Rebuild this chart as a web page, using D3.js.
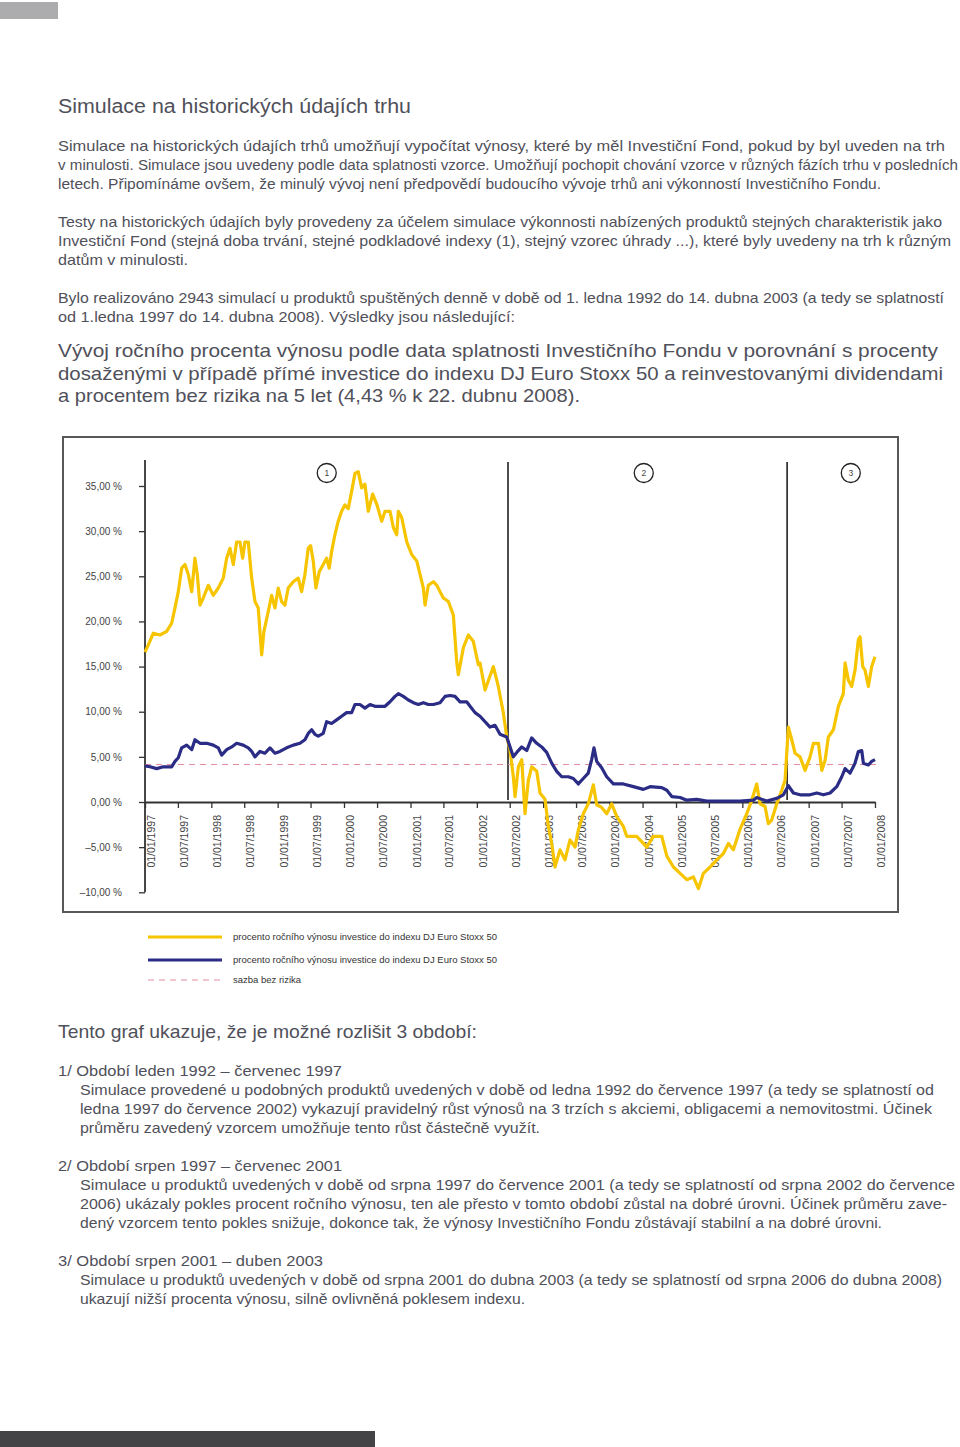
<!DOCTYPE html>
<html><head><meta charset="utf-8">
<script src="https://cdn.jsdelivr.net/npm/d3@7"></script>
<style>
html,body{margin:0;padding:0;background:#fff;}
svg{display:block;}
text{font-family:"Liberation Sans",Arial,sans-serif;}
</style></head>
<body>
<script>
// ---------------- DATA ----------------
const yTickValues = [-10, -5, 0, 5, 10, 15, 20, 25, 30, 35];
const yTickLabels = ["–10,00 %", "–5,00 %", "0,00 %", "5,00 %", "10,00 %", "15,00 %", "20,00 %", "25,00 %", "30,00 %", "35,00 %"];
const xTickLabels = ["01/01/1997","01/07/1997","01/01/1998","01/07/1998","01/01/1999","01/07/1999","01/01/2000","01/07/2000","01/01/2001","01/07/2001","01/01/2002","01/07/2002","01/01/2003","01/07/2003","01/01/2004","01/07/2004","01/01/2005","01/07/2005","01/01/2006","01/07/2006","01/01/2007","01/07/2007","01/01/2008"];

// decimal years (maturity date) and annual return in %
const yellowT = [1997.000,1997.050,1997.125,1997.226,1997.327,1997.402,1997.452,1997.502,1997.553,1997.603,1997.653,1997.704,1997.753,1997.788,1997.829,1997.879,1997.954,1998.029,1998.105,1998.180,1998.231,1998.281,1998.331,1998.382,1998.432,1998.472,1998.507,1998.557,1998.608,1998.658,1998.707,1998.759,1998.793,1998.858,1998.909,1998.959,1999.009,1999.060,1999.110,1999.159,1999.235,1999.310,1999.361,1999.411,1999.461,1999.497,1999.536,1999.577,1999.627,1999.687,1999.738,1999.777,1999.813,1999.863,1999.913,1999.964,2000.014,2000.064,2000.115,2000.165,2000.214,2000.266,2000.315,2000.365,2000.431,2000.492,2000.567,2000.617,2000.692,2000.742,2000.793,2000.817,2000.868,2000.944,2001.019,2001.094,2001.144,2001.194,2001.219,2001.269,2001.345,2001.396,2001.445,2001.495,2001.571,2001.646,2001.697,2001.721,2001.797,2001.872,2001.947,2002.023,2002.048,2002.124,2002.249,2002.324,2002.399,2002.451,2002.500,2002.550,2002.576,2002.626,2002.677,2002.726,2002.776,2002.827,2002.903,2002.952,2003.028,2003.078,2003.129,2003.178,2003.254,2003.329,2003.405,2003.480,2003.530,2003.605,2003.680,2003.756,2003.807,2003.882,2003.958,2004.033,2004.108,2004.208,2004.259,2004.410,2004.560,2004.660,2004.786,2004.862,2004.961,2005.062,2005.163,2005.262,2005.338,2005.413,2005.514,2005.615,2005.715,2005.790,2005.865,2005.966,2006.067,2006.142,2006.217,2006.267,2006.343,2006.392,2006.443,2006.519,2006.594,2006.644,2006.694,2006.745,2006.795,2006.870,2006.946,2007.021,2007.071,2007.147,2007.198,2007.247,2007.297,2007.373,2007.448,2007.523,2007.549,2007.598,2007.649,2007.699,2007.749,2007.775,2007.815,2007.850,2007.900,2007.950,2008.000];
const yellowV = [16.6,17.4,18.7,18.5,18.9,19.8,21.5,23.3,25.9,26.3,25.2,23.3,27.0,25.2,21.8,22.6,24.0,22.9,23.7,24.8,27.0,28.1,26.3,28.8,28.8,27.0,28.8,28.8,24.8,22.2,21.5,16.3,18.9,21.1,22.9,21.5,23.7,22.2,21.8,23.7,24.4,24.8,23.3,25.2,28.1,28.4,26.7,23.7,25.5,26.3,27.0,25.9,27.7,29.6,31.1,32.2,32.9,32.5,34.4,36.4,36.6,34.8,35.2,32.2,34.1,33.0,31.1,32.2,32.2,30.4,29.6,32.2,31.5,28.8,27.4,26.7,25.2,23.7,21.8,24.0,24.4,24.0,23.3,22.6,22.2,20.7,15.5,14.1,17.1,18.5,17.8,15.2,15.4,12.4,15.0,12.8,9.9,7.2,5.8,2.8,0.6,3.9,4.7,-1.3,2.4,3.9,3.4,1.0,0.3,-2.7,-4.6,-7.2,-5.3,-6.4,-4.2,-5.0,-3.1,-1.3,-0.2,1.9,-0.3,-0.6,-1.3,-0.2,-1.6,-2.7,-3.8,-3.8,-5.0,-3.8,-3.8,-6.0,-7.2,-7.9,-8.6,-8.3,-9.6,-7.9,-7.2,-6.4,-5.7,-4.6,-5.3,-3.0,-1.3,0.2,2.0,-0.2,-0.5,-2.4,-2.0,-0.2,1.3,2.4,8.3,6.9,5.4,5.0,3.5,5.0,6.5,6.5,3.5,4.6,7.2,8.0,10.6,12.0,15.4,13.5,12.8,14.6,18.0,18.3,15.0,14.6,12.8,15.0,16.1];

const blueT = [1997.000,1997.075,1997.176,1997.276,1997.402,1997.452,1997.502,1997.553,1997.628,1997.704,1997.753,1997.829,1997.930,1998.029,1998.105,1998.156,1998.231,1998.307,1998.382,1998.481,1998.557,1998.608,1998.658,1998.733,1998.808,1998.884,1998.959,1999.034,1999.135,1999.235,1999.336,1999.411,1999.461,1999.512,1999.562,1999.612,1999.687,1999.738,1999.813,1999.889,1999.964,2000.039,2000.115,2000.165,2000.240,2000.315,2000.391,2000.466,2000.541,2000.617,2000.692,2000.767,2000.817,2000.892,2000.968,2001.043,2001.118,2001.194,2001.269,2001.345,2001.445,2001.521,2001.596,2001.671,2001.747,2001.847,2001.898,2001.973,2002.048,2002.199,2002.274,2002.350,2002.451,2002.550,2002.626,2002.677,2002.752,2002.827,2002.903,2002.978,2003.053,2003.129,2003.204,2003.280,2003.380,2003.455,2003.530,2003.605,2003.680,2003.731,2003.766,2003.807,2003.882,2003.958,2004.058,2004.208,2004.359,2004.509,2004.610,2004.786,2004.862,2004.937,2005.062,2005.163,2005.314,2005.464,2005.665,2005.966,2006.167,2006.217,2006.368,2006.519,2006.619,2006.694,2006.770,2006.870,2007.021,2007.122,2007.222,2007.323,2007.423,2007.499,2007.549,2007.624,2007.699,2007.749,2007.800,2007.825,2007.900,2007.950,2008.000];
const blueV = [4.0,3.9,3.7,3.9,3.9,4.5,4.9,6.0,6.3,5.8,6.9,6.5,6.5,6.3,6.0,5.2,5.8,6.1,6.5,6.3,6.0,5.6,5.0,5.6,5.4,6.0,5.4,5.6,6.0,6.3,6.5,6.9,7.6,8.0,7.5,7.3,7.6,8.9,8.7,9.1,9.5,9.9,9.9,10.8,10.8,10.4,10.8,10.6,10.6,10.6,11.1,11.7,12.0,11.7,11.3,11.0,10.8,11.0,10.8,10.8,11.0,11.7,11.8,11.7,11.1,11.1,10.6,9.9,9.5,8.3,8.5,7.5,7.2,5.0,5.7,6.1,5.7,7.1,6.5,6.1,5.5,4.3,3.4,2.8,2.8,2.6,2.0,2.6,3.2,4.7,6.0,4.5,3.8,2.8,2.0,2.0,1.7,1.4,1.7,1.6,1.3,0.6,0.5,0.2,0.3,0.1,0.1,0.1,0.2,0.5,0.1,0.4,0.8,1.8,1.0,0.8,0.8,1.0,0.8,1.0,1.7,2.8,3.7,3.2,4.3,5.6,5.7,4.3,4.1,4.5,4.7];

const riskFreeRate = 4.15;
const periodLines = [2002.470, 2006.675];
const periodLabels = ["1", "2", "3"];
const periodLabelT = [1999.740, 2004.515, 2007.635];
const legendLabels = ["procento ročního výnosu investice do indexu DJ Euro Stoxx 50", "procento ročního výnosu investice do indexu DJ Euro Stoxx 50", "sazba bez rizika"];

// ---------------- TEXTS ----------------
const textLines = [
  // [text, x, y, size, width]
  ["Simulace na historických údajích trhu", 58, 113, 20, 353],
  ["Simulace na historických údajích trhů umožňují vypočítat výnosy, které by měl Investiční Fond, pokud by byl uveden na trh", 58, 151, 14.5, 887],
  ["v minulosti. Simulace jsou uvedeny podle data splatnosti vzorce. Umožňují pochopit chování vzorce v různých fázích trhu v posledních", 58, 170, 14.5, 900],
  ["letech. Připomínáme ovšem, že minulý vývoj není předpovědí budoucího vývoje trhů ani výkonností Investičního Fondu.", 58, 189, 14.5, 823],
  ["Testy na historických údajích byly provedeny za účelem simulace výkonnosti nabízených produktů stejných charakteristik jako", 58, 227, 14.5, 884],
  ["Investiční Fond (stejná doba trvání, stejné podkladové indexy (1), stejný vzorec úhrady ...), které byly uvedeny na trh k různým", 58, 246, 14.5, 893],
  ["datům v minulosti.", 58, 265, 14.5, 130],
  ["Bylo realizováno 2943 simulací u produktů spuštěných denně v době od 1. ledna 1992 do 14. dubna 2003 (a tedy se splatností", 58, 303, 14.5, 886],
  ["od 1.ledna 1997 do 14. dubna 2008). Výsledky jsou následující:", 58, 322, 14.5, 457],
  ["Vývoj ročního procenta výnosu podle data splatnosti Investičního Fondu v porovnání s procenty", 58, 357, 18.5, 880],
  ["dosaženými v případě přímé investice do indexu DJ Euro Stoxx 50 a reinvestovanými dividendami", 58, 380, 18.5, 885],
  ["a procentem bez rizika na 5 let (4,43 % k 22. dubnu 2008).", 58, 402, 18.5, 522],
  ["Tento graf ukazuje, že je možné rozlišit 3 období:", 58, 1038, 18.5, 419],
  ["1/ Období leden 1992 – červenec 1997", 58, 1076, 15, 284],
  ["Simulace provedené u podobných produktů uvedených v době od ledna 1992 do července 1997 (a tedy se splatností od", 80, 1095, 15, 854],
  ["ledna 1997 do července 2002) vykazují pravidelný růst výnosů na 3 trzích s akciemi, obligacemi a nemovitostmi. Účinek", 80, 1114, 15, 852],
  ["průměru zavedený vzorcem umožňuje tento růst částečně využít.", 80, 1133, 15, 460],
  ["2/ Období srpen 1997 – červenec 2001", 58, 1171, 15, 284],
  ["Simulace u produktů uvedených v době od srpna 1997 do července 2001 (a tedy se splatností od srpna 2002 do července", 80, 1190, 15, 875],
  ["2006) ukázaly pokles procent ročního výnosu, ten ale přesto v tomto období zůstal na dobré úrovni. Účinek průměru zave-", 80, 1209, 15, 867],
  ["dený vzorcem tento pokles snižuje, dokonce tak, že výnosy Investičního Fondu zůstávají stabilní a na dobré úrovni.", 80, 1228, 15, 802],
  ["3/ Období srpen 2001 – duben 2003", 58, 1266, 15, 265],
  ["Simulace u produktů uvedených v době od srpna 2001 do dubna 2003 (a tedy se splatností od srpna 2006 do dubna 2008)", 80, 1285, 15, 862],
  ["ukazují nižší procenta výnosu, silně ovlivněná poklesem indexu.", 80, 1304, 15, 445]
];

// ---------------- DRAW ----------------
const W = 960, H = 1447;
const svg = d3.select("body").append("svg").attr("width", W).attr("height", H);

svg.append("rect").attr("x", 0).attr("y", 2).attr("width", 58).attr("height", 17).attr("fill", "#acacae");
svg.append("rect").attr("x", 0).attr("y", 1431).attr("width", 375).attr("height", 16).attr("fill", "#444446");

svg.selectAll("text.body").data(textLines).join("text")
  .attr("class", "body")
  .attr("x", d => d[1]).attr("y", d => d[2])
  .attr("font-size", d => d[3])
  .attr("fill", "#50505a")
  .attr("textLength", d => d[4])
  .attr("lengthAdjust", "spacingAndGlyphs")
  .text(d => d[0]);

// chart frame
svg.append("rect").attr("x", 63).attr("y", 437).attr("width", 835).attr("height", 475)
  .attr("fill", "none").attr("stroke", "#58585a").attr("stroke-width", 2);

const toDate = t => {
  const yr = Math.floor(t);
  const start = new Date(yr, 0, 1).getTime();
  const end = new Date(yr + 1, 0, 1).getTime();
  return new Date(start + (t - yr) * (end - start));
};
const parse = d3.timeParse("%d/%m/%Y");
const xDates = xTickLabels.map(parse);

const x = d3.scaleTime().domain([xDates[0], xDates[xDates.length - 1]]).range([145, 875]);
const y = d3.scaleLinear().domain([-10, 35]).range([892.3, 486]);

const g = svg.append("g");

// y axis
const yAxis = d3.axisLeft(y).tickValues(yTickValues)
  .tickFormat((d, i) => yTickLabels[i]).tickSize(6).tickPadding(17);
const yg = g.append("g").attr("transform", "translate(145,0)").call(yAxis);
yg.select(".domain").remove();
yg.selectAll(".tick line").attr("stroke", "#333").attr("stroke-width", 1.3);
yg.selectAll(".tick text").attr("font-size", 10).attr("fill", "#444").attr("font-family", '"Liberation Sans",Arial,sans-serif');
g.append("line").attr("x1", 145).attr("x2", 145).attr("y1", 460).attr("y2", y(-10))
  .attr("stroke", "#333").attr("stroke-width", 1.8);

// x axis
const xAxis = d3.axisBottom(x).tickValues(xDates).tickFormat((d, i) => xTickLabels[i]).tickSize(6).tickSizeOuter(0);
const xg = g.append("g").attr("transform", `translate(0,${y(0)})`).call(xAxis);
xg.select(".domain").attr("stroke", "#333").attr("stroke-width", 1.8);
xg.selectAll(".tick line").attr("stroke", "#333").attr("stroke-width", 1.3);
xg.selectAll(".tick text")
  .attr("font-size", 10.5).attr("fill", "#444").attr("font-family", '"Liberation Sans",Arial,sans-serif')
  .attr("text-anchor", "end")
  .attr("transform", "translate(9.5,13) rotate(-90)")
  .attr("x", 0).attr("y", 0).attr("dy", "0");

// period separators
g.selectAll("line.period").data(periodLines).join("line")
  .attr("class", "period")
  .attr("x1", d => x(toDate(d))).attr("x2", d => x(toDate(d)))
  .attr("y1", 462).attr("y2", y(0) - 2)
  .attr("stroke", "#222").attr("stroke-width", 1.6);

// risk free rate
g.append("line").attr("x1", 145).attr("x2", 876).attr("y1", y(riskFreeRate)).attr("y2", y(riskFreeRate))
  .attr("stroke", "#e48c9c").attr("stroke-width", 1).attr("stroke-dasharray", "6,5");

const line = d3.line().x(d => x(toDate(d[0]))).y(d => y(d[1])).curve(d3.curveLinear);
g.append("path").datum(yellowT.map((t, i) => [t, yellowV[i]]))
  .attr("d", line).attr("fill", "none").attr("stroke", "#f6c500").attr("stroke-width", 3.2).attr("stroke-linejoin", "round");
g.append("path").datum(blueT.map((t, i) => [t, blueV[i]]))
  .attr("d", line).attr("fill", "none").attr("stroke", "#2b2c85").attr("stroke-width", 3.2).attr("stroke-linejoin", "round");

// period labels
const pl = g.selectAll("g.plabel").data(periodLabels).join("g").attr("class", "plabel")
  .attr("transform", (d, i) => `translate(${x(toDate(periodLabelT[i]))},473)`);
pl.append("circle").attr("r", 9.5).attr("fill", "#fff").attr("stroke", "#222").attr("stroke-width", 1.3);
pl.append("text").attr("text-anchor", "middle").attr("dy", "0.35em").attr("font-size", 8.5).attr("fill", "#444").text(d => d);

// legend
const legendStyles = [
  {stroke: "#f6c500", w: 3, dash: null},
  {stroke: "#2b2c85", w: 3, dash: null},
  {stroke: "#e48c9c", w: 1, dash: "6,5"}
];
const legendY = [937, 960, 980];
const lg = svg.selectAll("g.legend").data(legendLabels).join("g").attr("class", "legend")
  .attr("transform", (d, i) => `translate(0,${legendY[i]})`);
lg.append("line").attr("x1", 148).attr("x2", 222).attr("y1", 0).attr("y2", 0)
  .attr("stroke", (d, i) => legendStyles[i].stroke).attr("stroke-width", (d, i) => legendStyles[i].w)
  .attr("stroke-dasharray", (d, i) => legendStyles[i].dash);
lg.append("text").attr("x", 233).attr("y", 0).attr("dy", "0.35em").attr("font-size", 9.5).attr("fill", "#333").text(d => d);
</script>
</body></html>
